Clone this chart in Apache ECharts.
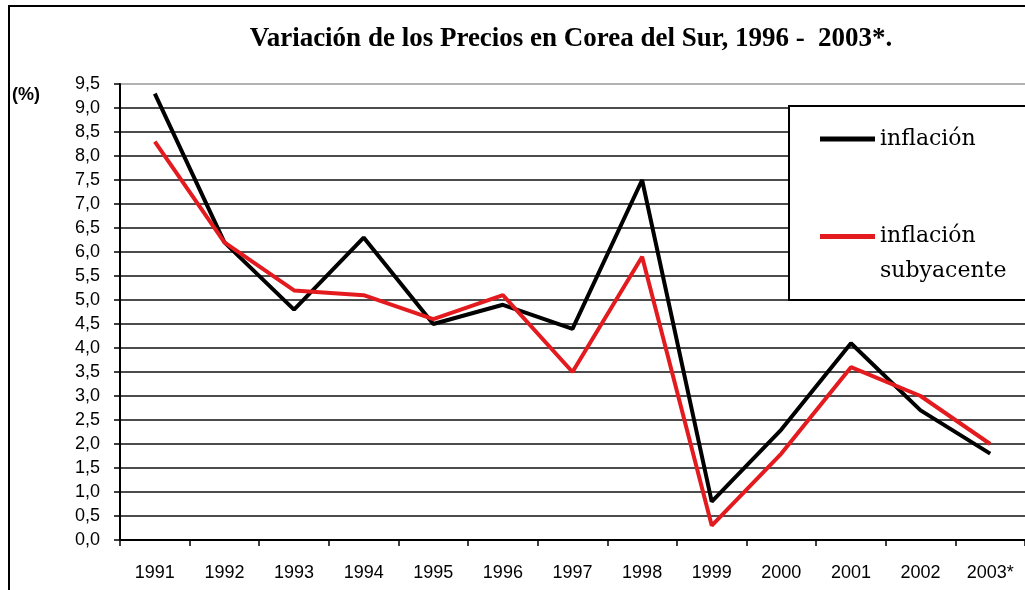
<!DOCTYPE html>
<html>
<head>
<meta charset="utf-8">
<script src="https://cdn.jsdelivr.net/npm/echarts@6/dist/echarts.min.js"></script>
<style>
  html, body { margin: 0; padding: 0; background: #fff; }
  #chart { width: 1025px; height: 590px; }
</style>
</head>
<body>
<div id="chart"></div>
<script>
// datos
const years = ['1991', '1992', '1993', '1994', '1995', '1996', '1997', '1998', '1999', '2000', '2001', '2002', '2003*'];
const inflacion = [9.3, 6.2, 4.8, 6.3, 4.5, 4.9, 4.4, 7.5, 0.8, 2.3, 4.1, 2.7, 1.8];
const subyacente = [8.3, 6.2, 5.2, 5.1, 4.6, 5.1, 3.5, 5.9, 0.3, 1.8, 3.6, 3.0, 2.0];

const chart = echarts.init(document.getElementById('chart'));

// la última línea (9,5) se ve gris
const gridColors = [];
for (let i = 0; i < 20; i++) gridColors.push(i === 19 ? '#999' : '#111');

const option = {
    backgroundColor: '#fff',
    animation: false,
    title: {
        text: 'Variación de los Precios en Corea del Sur, 1996 -  2003*.',
        left: 566,
        textAlign: 'center',
        top: 21,
        textStyle: {
            fontFamily: 'Liberation Serif',
            fontWeight: 'bold',
            fontSize: 27,
            color: '#000'
        }
    },
    grid: {
        left: 120,
        top: 84,
        width: 910,
        bottom: 50
    },
    legend: [{
        data: ['inflación'],
        left: 820,
        top: 126,
        padding: 0,
        selectedMode: false,
        icon: 'rect',
        itemWidth: 55,
        itemHeight: 5,
        z: 10,
        textStyle: { fontFamily: 'DejaVu Serif', fontSize: 22, color: '#000', lineHeight: 26 }
    }, {
        data: ['inflación subyacente'],
        left: 820,
        top: 184,
        padding: 0,
        selectedMode: false,
        icon: 'rect',
        itemWidth: 55,
        itemHeight: 5,
        z: 10,
        formatter: function () {
            return '\ninflación\nsubyacente';
        },
        textStyle: { fontFamily: 'DejaVu Serif', fontSize: 22, color: '#000', lineHeight: 35 }
    }],
    graphic: [{
        type: 'rect',
        z: 3,
        shape: { x: 789, y: 106, width: 300, height: 194 },
        style: { fill: '#fff', stroke: '#000', lineWidth: 2 }
    }, {
        type: 'rect',
        z: 3,
        shape: { x: 9, y: 6, width: 1100, height: 700 },
        style: { fill: 'none', stroke: '#000', lineWidth: 2 }
    }, {
        type: 'text',
        z: 3,
        left: 12,
        top: 86,
        style: { text: '(%)', font: 'bold 18px "Liberation Sans Narrow", "Liberation Sans"', fill: '#000' }
    }],
    xAxis: {
        type: 'category',
        data: years,
        boundaryGap: true,
        axisLine: { lineStyle: { color: '#000', width: 2 } },
        axisTick: { show: true, interval: 0, length: 6, lineStyle: { color: '#000', width: 1.5 } },
        axisLabel: {
            interval: 0,
            margin: 24,
            fontFamily: 'Liberation Sans',
            fontSize: 18,
            color: '#000'
        },
        splitLine: { show: false }
    },
    yAxis: {
        type: 'value',
        min: 0,
        max: 9.5,
        interval: 0.5,
        axisLine: { show: true, lineStyle: { color: '#000', width: 2 } },
        axisTick: { show: true, length: 6, lineStyle: { color: '#000', width: 1.5 } },
        axisLabel: {
            margin: 20,
            fontFamily: 'Liberation Sans',
            fontSize: 18,
            color: '#000',
            formatter: function (v) { return v.toFixed(1).replace('.', ','); }
        },
        splitLine: { show: true, lineStyle: { color: gridColors, width: 1.5 } }
    },
    series: [{
        name: 'inflación',
        type: 'line',
        data: inflacion,
        showSymbol: false,
        symbol: 'none',
        z: 2,
        color: '#000',
        lineStyle: { color: '#000', width: 4 }
    }, {
        name: 'inflación subyacente',
        type: 'line',
        data: subyacente,
        showSymbol: false,
        symbol: 'none',
        z: 2,
        color: '#e31b1f',
        lineStyle: { color: '#e31b1f', width: 4 }
    }]
};

chart.setOption(option);
</script>
</body>
</html>
